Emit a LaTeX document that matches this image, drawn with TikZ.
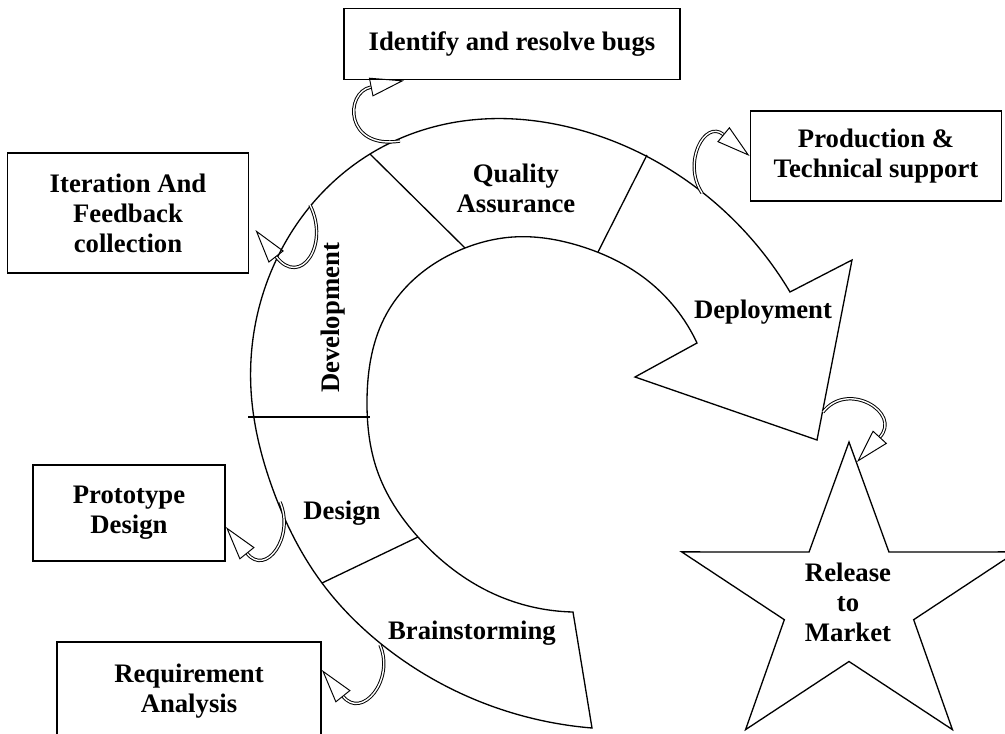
\documentclass[tikz,border=0pt]{standalone}
\usepackage{fontspec}
\setmainfont{Liberation Serif}
\usetikzlibrary{arrows.meta,hobby}

\begin{document}
\begin{tikzpicture}[x=0.02cm, y=-0.02cm, line width=0.75pt,
    font=\fontsize{15.2}{17.1}\selectfont\bfseries]
  \tikzstyle{callout}=[draw, line width=1.1pt, align=center, inner sep=0pt]
  \tikzstyle{hook}=[double, double distance=0.8pt, line width=0.55pt, -{Triangle[open, length=0.68cm, width=0.38cm]}]
  \tikzstyle{stage}=[align=center]

  \useasboundingbox (0,0) rectangle (1005,734);

  % the ring: outer edge, head, inner edge
  \draw[use Hobby shortcut] (592,728) .. (497,708) .. (380,643) .. (322,583) .. (272,487) .. (251,390)
    .. (273,267) .. (370,154) .. (463,121) .. (580,130) .. (702,192) .. (790,292)
    -- (852,260) -- (817,440) -- (635,377) -- (697,343)
    .. (647,280) .. (580,246) .. (513,237) .. (465,248) .. (387,313) .. (367,400)
    .. (377,470) .. (418,537) .. (494,594) .. (573,612) -- cycle;

  % stage borders
  \draw (322,583) -- (418,537);
  \draw (248,417) -- (370,417);
  \draw (370,154) -- (465,248);
  \draw (647,155) -- (598,252);

  \node[stage] (brain) at (472,633) {Brainstorming};
  \node[stage] (design) at (342,513) {Design};
  \node[stage, rotate=90] (dev) at (333,318) {Development};
  \node[stage] (qa) at (516,188) {Quality\\Assurance};
  \node[stage] (deploy) at (763,312) {Deployment};

  % boxes round the ring
  \node[callout, minimum width=6.72cm, minimum height=1.42cm] (bugs) at (512,44) {Identify and resolve bugs};
  \node[callout, minimum width=5.02cm, minimum height=1.8cm] (prod) at (876,156) {Production \&\\Technical support};
  \node[callout, minimum width=4.82cm, minimum height=2.4cm] (iter) at (128,213) {Iteration And\\Feedback\\collection};
  \node[callout, minimum width=3.84cm, minimum height=1.92cm] (proto) at (129,513) {Prototype\\Design};
  \node[callout, minimum width=5.28cm, minimum height=1.96cm] (req) at (189,691) {Requirement\\Analysis};

  % star
  \coordinate (starc) at (849,601);
  \draw[shift={(starc)}] (90:3.52cm and 3.18cm)
    \foreach \a in {162,234,306,18} {-- (\a-36:1.36cm and 1.21cm) -- (\a:3.52cm and 3.18cm)}
    -- (54:1.36cm and 1.21cm) -- cycle;
  \node[stage] (release) at (848,602) {Release\\to\\Market};

  \coordinate (bugS) at (400,141);
  \coordinate (iterS) at (310,205);
  \coordinate (prodS) at (702,193);
  \coordinate (protoS) at (280,502);
  \coordinate (reqS) at (380,645);
  \coordinate (relS) at (823,412);
  \coordinate (relE) at (857,462);

  \draw[hook] (bugS) .. controls +(-55,9) and +(-60,12) .. ([xshift=1.22cm]bugs.south west);
  \draw[hook] (iterS) .. controls +(20,40) and +(45,58) .. ([xshift=0.12cm,yshift=-0.34cm]iter.east);
  \draw[hook] (prodS) .. controls +(-20,-30) and +(-45,-37) .. (prod.west);
  \draw[hook] (relS) .. controls +(25,-32) and +(45,-49) .. (relE);
  \draw[hook] (protoS) .. controls +(15,35) and +(40,50) .. ([yshift=-0.28cm]proto.east);
  \draw[hook] (reqS) .. controls +(15,35) and +(40,50) .. ([yshift=0.42cm]req.east);
\end{tikzpicture}
\end{document}
